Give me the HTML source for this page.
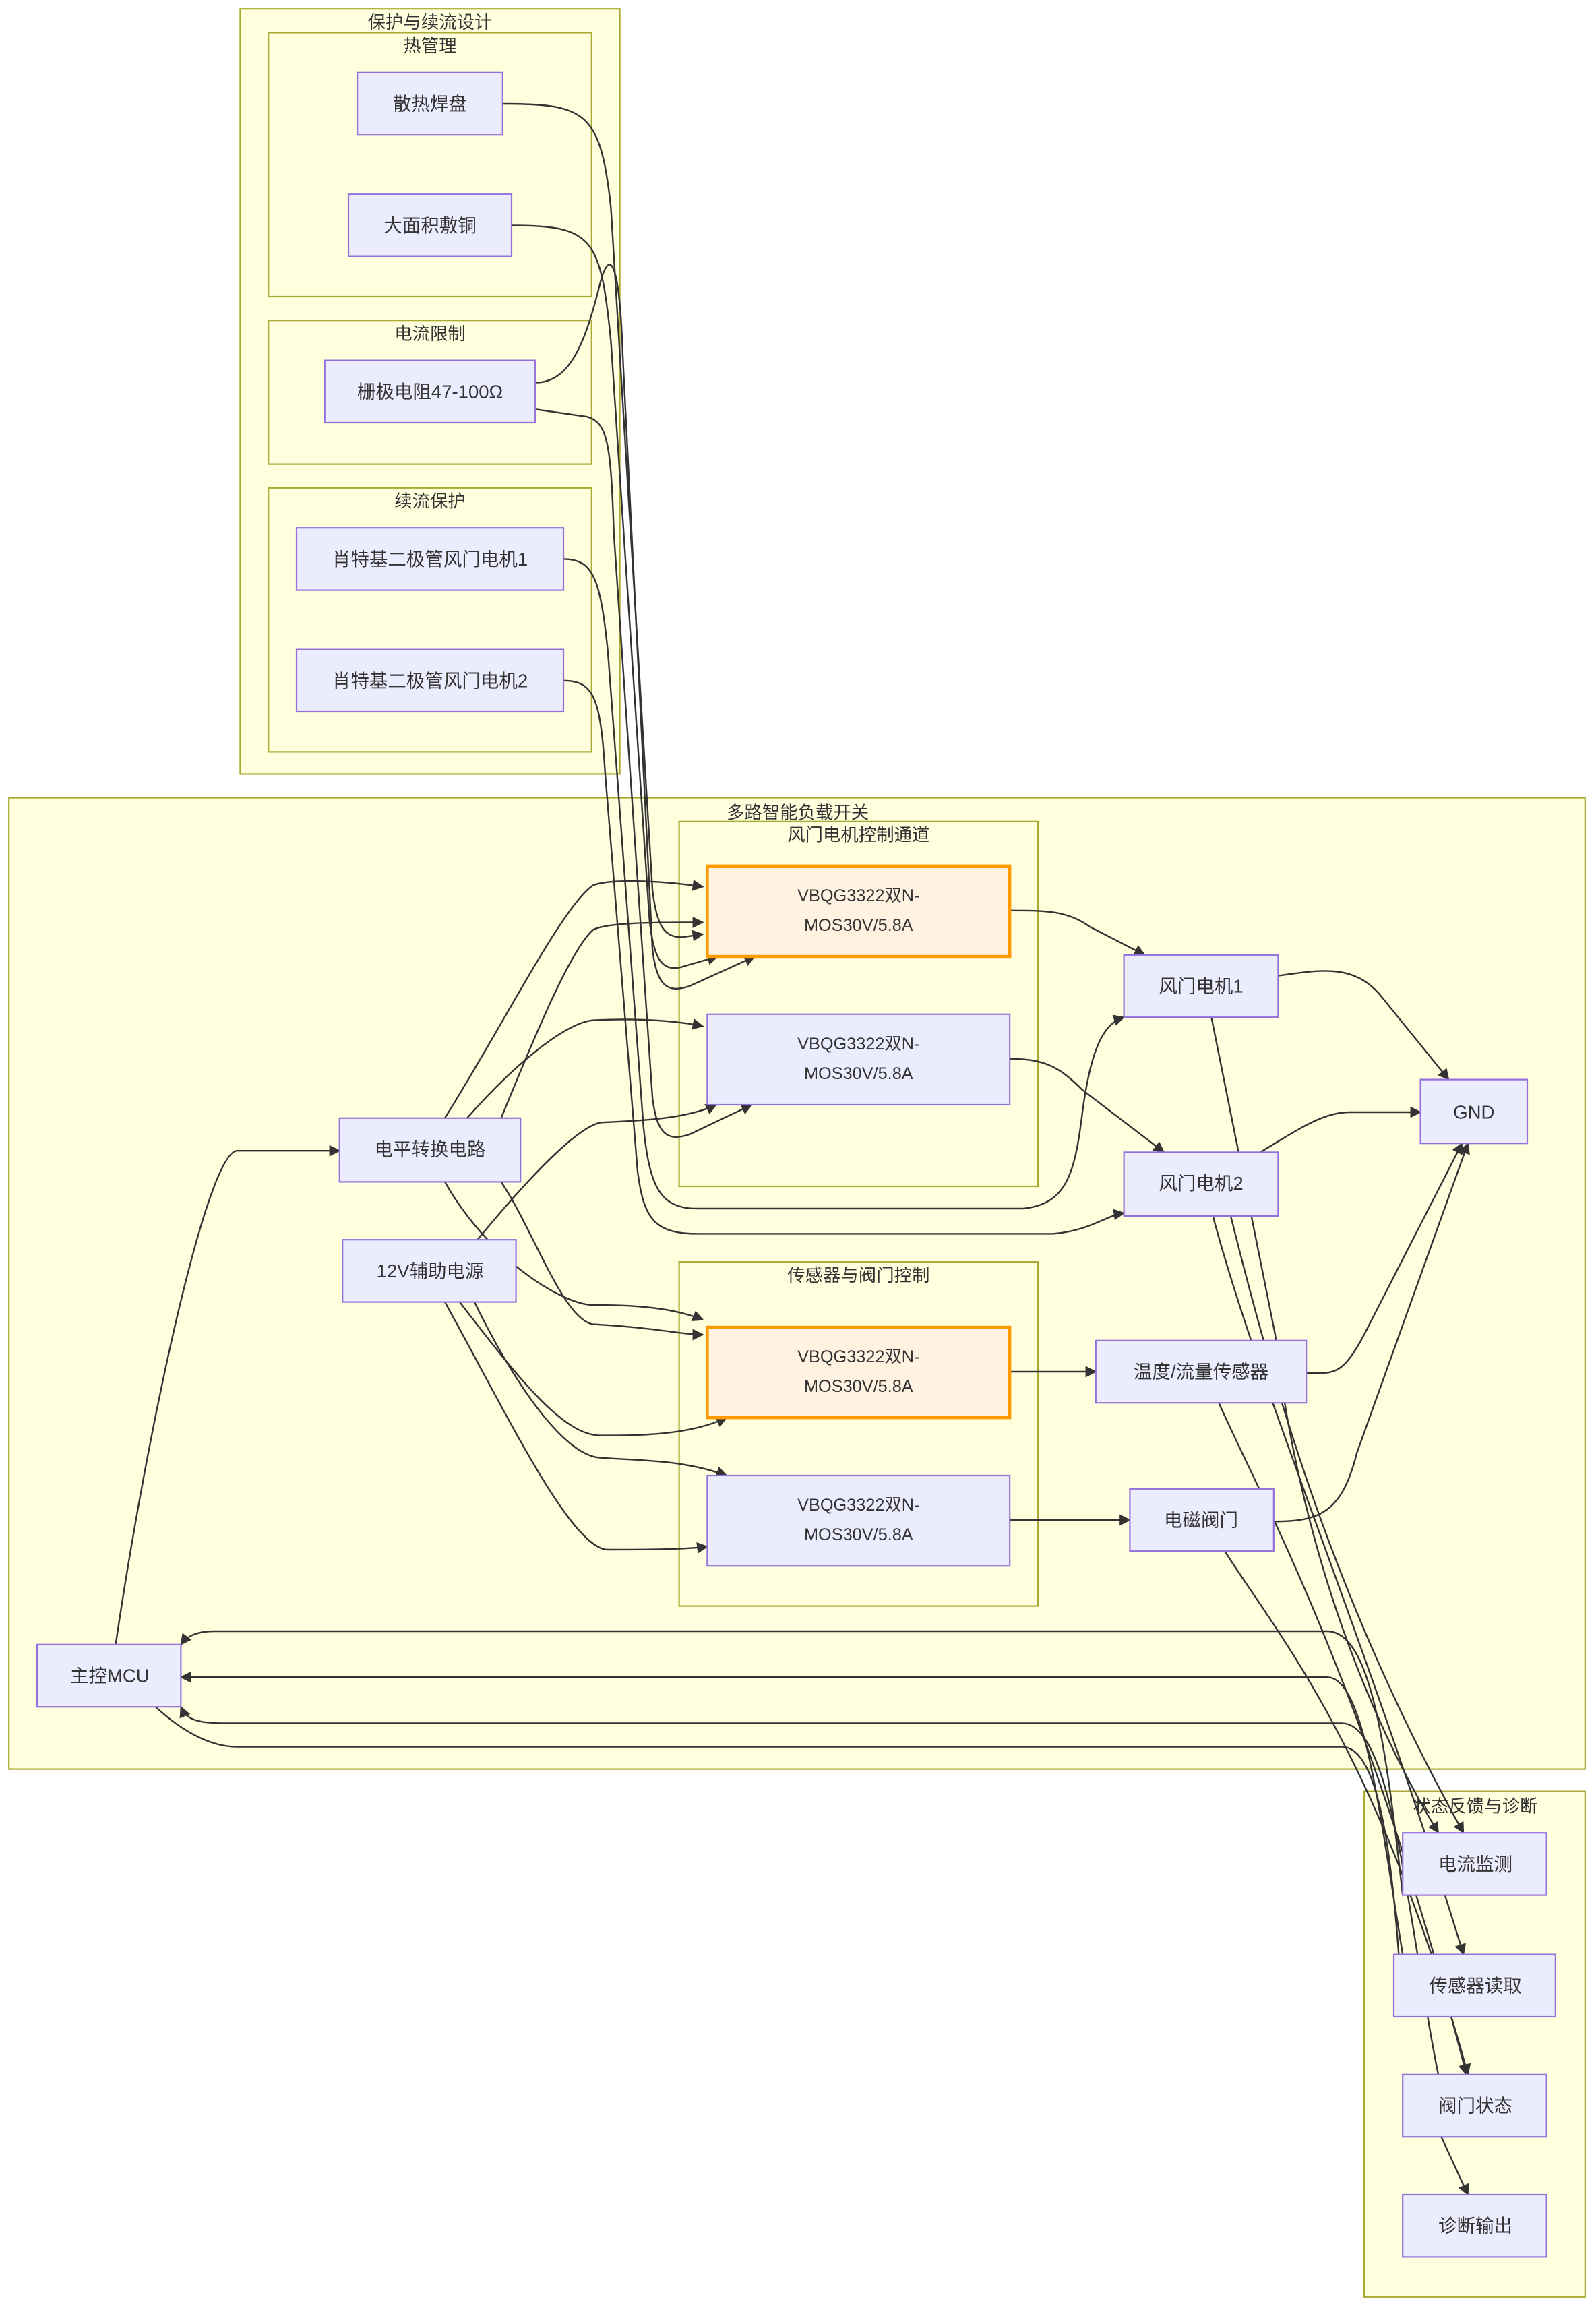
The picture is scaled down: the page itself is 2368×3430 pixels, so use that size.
<!DOCTYPE html>
<html><head><meta charset="utf-8"><style>
html,body{margin:0;padding:0;background:#fff;}
svg{display:block;}
text{font-family:"Liberation Sans","Noto Sans CJK SC",sans-serif;fill:#333;}
.c{fill:#ffffde;stroke:#aaaa33;stroke-width:1;}
.n{fill:#ececff;stroke:#9370db;stroke-width:1;}
.o{fill:#fff2e0;stroke:#ff9900;stroke-width:2;}
.e{fill:none;stroke:#333;stroke-width:1.1;}
.t{font-size:12.5px;text-anchor:middle;dominant-baseline:central;}
.s{font-size:12px;text-anchor:middle;}
</style></head><body>
<svg width="2368" height="3430" viewBox="0 0 1076.36 1559.09" xmlns="http://www.w3.org/2000/svg">
<defs><marker id="a" viewBox="0 0 10 10" refX="9" refY="5" markerWidth="7" markerHeight="7" orient="auto"><path d="M0,0L10,5L0,10z" fill="#333"/></marker></defs>

<rect class="c" x="162" y="6" width="256" height="516"/>
<text class="s" x="290" y="19">保护与续流设计</text>
<rect class="c" x="181" y="22" width="218" height="178"/>
<text class="s" x="290" y="35">热管理</text>
<rect class="c" x="181" y="216" width="218" height="97"/>
<text class="s" x="290" y="229">电流限制</text>
<rect class="c" x="181" y="329" width="218" height="178"/>
<text class="s" x="290" y="342">续流保护</text>

<rect class="c" x="6" y="538" width="1063" height="655"/>
<text class="s" x="538" y="552">多路智能负载开关</text>
<rect class="c" x="458" y="554" width="242" height="246"/>
<text class="s" x="579" y="567">风门电机控制通道</text>
<rect class="c" x="458" y="851" width="242" height="232"/>
<text class="s" x="579" y="864">传感器与阀门控制</text>

<rect class="c" x="920" y="1208" width="149" height="341"/>
<text class="s" x="995" y="1222">状态反馈与诊断</text>

<!-- edges -->
<g class="e">
<path d="M339,70 C395,70 405,75 412,140 L440,600 C443,625 448,632 460,632 L474,630" marker-end="url(#a)"/>
<path d="M345,152 C400,152 405,160 412,230 L438,620 C441,650 448,655 460,652 L484,645" marker-end="url(#a)"/>
<path d="M361,258 C385,258 395,230 405,190 C412,165 418,180 420,240 L440,640 C443,665 450,670 465,665 L509,645" marker-end="url(#a)"/>
<path d="M361,276 L396,281 C410,285 412,300 414,360 L440,740 C443,765 450,770 465,765 L507,745" marker-end="url(#a)"/>
<path d="M380,377 C400,377 405,390 410,440 L434,760 C438,800 445,815 470,815 L690,815 C720,812 725,790 730,750 C736,705 745,690 758,686" marker-end="url(#a)"/>
<path d="M380,459 C400,459 405,470 408,520 L430,790 C434,820 440,832 470,832 L710,832 C735,830 745,820 758,818" marker-end="url(#a)"/>
<path d="M300,754 C340,690 380,610 400,597 C410,593 440,593 474,598" marker-end="url(#a)"/>
<path d="M338,754 C360,700 385,640 400,627 C410,622 440,622 474,622" marker-end="url(#a)"/>
<path d="M315,754 C345,720 380,690 400,688 C420,687 450,687 474,692" marker-end="url(#a)"/>
<path d="M322,836 C360,790 390,760 405,757 C420,756 460,756 483,745" marker-end="url(#a)"/>
<path d="M300,797 C330,850 380,880 400,880 C415,880 450,880 474,890" marker-end="url(#a)"/>
<path d="M338,797 C360,830 380,890 400,893 C440,895 460,900 474,900" marker-end="url(#a)"/>
<path d="M310,878 C350,930 380,968 405,968 C430,968 465,968 490,956" marker-end="url(#a)"/>
<path d="M320,878 C345,930 380,982 405,983 C430,985 460,984 490,995" marker-end="url(#a)"/>
<path d="M300,878 C340,950 385,1045 410,1045 C430,1045 460,1045 477,1043" marker-end="url(#a)"/>
<path d="M78,1109 C100,960 140,776 160,776 L229,776" marker-end="url(#a)"/>
<path d="M681,614 C705,614 720,614 735,625 L772,644" marker-end="url(#a)"/>
<path d="M681,714 C705,714 715,720 730,735 L785,777" marker-end="url(#a)"/>
<path d="M681,925 L739,925" marker-end="url(#a)"/>
<path d="M681,1025 L762,1025" marker-end="url(#a)"/>
<path d="M862,658 C890,654 912,650 930,670 L977,728" marker-end="url(#a)"/>
<path d="M850,777 C875,762 892,750 910,750 L958,750" marker-end="url(#a)"/>
<path d="M881,926 C900,926 905,928 920,900 L986,771" marker-end="url(#a)"/>
<path d="M859,1026 C890,1026 905,1020 915,980 L990,771" marker-end="url(#a)"/>
<path d="M817,686 L860,900 C870,990 900,1120 970,1236" marker-end="url(#a)"/>
<path d="M830,820 C860,940 900,1080 987,1236" marker-end="url(#a)"/>
<path d="M818,820 C850,940 920,1100 987,1318" marker-end="url(#a)"/>
<path d="M822,946 C850,1010 920,1130 989,1399" marker-end="url(#a)"/>
<path d="M826,1046 C860,1100 930,1180 990,1399" marker-end="url(#a)"/>
<path d="M972,1441 L990,1480" marker-end="url(#a)"/>
<path d="M946,1278 C935,1180 925,1100 895,1100 L145,1100 C130,1100 125,1105 122,1109" marker-end="url(#a)"/>
<path d="M946,1318 C930,1220 920,1131 895,1131 L122,1131" marker-end="url(#a)"/>
<path d="M970,1399 C950,1300 940,1162 905,1162 L150,1162 C130,1162 125,1158 122,1151" marker-end="url(#a)"/>
<path d="M105,1151 C120,1165 140,1178 160,1178 L905,1178 C930,1178 940,1250 946,1360"/>
</g>

<!-- nodes -->
<rect class="n" x="241" y="49" width="98" height="42"/><text class="t" x="290" y="70">散热焊盘</text>
<rect class="n" x="235" y="131" width="110" height="42"/><text class="t" x="290" y="152">大面积敷铜</text>
<rect class="n" x="219" y="243" width="142" height="42"/><text class="t" x="290" y="264">栅极电阻47-100Ω</text>
<rect class="n" x="200" y="356" width="180" height="42"/><text class="t" x="290" y="377">肖特基二极管风门电机1</text>
<rect class="n" x="200" y="438" width="180" height="42"/><text class="t" x="290" y="459">肖特基二极管风门电机2</text>

<rect class="o" x="477" y="584" width="204" height="61"/><text class="t" x="579" y="604" style="font-size:11.5px">VBQG3322双N-</text><text class="t" x="579" y="624" style="font-size:11.5px">MOS30V/5.8A</text>
<rect class="n" x="477" y="684" width="204" height="61"/><text class="t" x="579" y="704" style="font-size:11.5px">VBQG3322双N-</text><text class="t" x="579" y="724" style="font-size:11.5px">MOS30V/5.8A</text>
<rect class="o" x="477" y="895" width="204" height="61"/><text class="t" x="579" y="915" style="font-size:11.5px">VBQG3322双N-</text><text class="t" x="579" y="935" style="font-size:11.5px">MOS30V/5.8A</text>
<rect class="n" x="477" y="995" width="204" height="61"/><text class="t" x="579" y="1015" style="font-size:11.5px">VBQG3322双N-</text><text class="t" x="579" y="1035" style="font-size:11.5px">MOS30V/5.8A</text>

<rect class="n" x="229" y="754" width="122" height="43"/><text class="t" x="290" y="775">电平转换电路</text>
<rect class="n" x="231" y="836" width="117" height="42"/><text class="t" x="290" y="857">12V辅助电源</text>
<rect class="n" x="758" y="644" width="104" height="42"/><text class="t" x="810" y="665">风门电机1</text>
<rect class="n" x="758" y="777" width="104" height="43"/><text class="t" x="810" y="798">风门电机2</text>
<rect class="n" x="958" y="728" width="72" height="43"/><text class="t" x="994" y="750">GND</text>
<rect class="n" x="739" y="904" width="142" height="42"/><text class="t" x="810" y="925">温度/流量传感器</text>
<rect class="n" x="762" y="1004" width="97" height="42"/><text class="t" x="810" y="1025">电磁阀门</text>
<rect class="n" x="25" y="1109" width="97" height="42"/><text class="t" x="74" y="1130">主控MCU</text>

<rect class="n" x="946" y="1236" width="97" height="42"/><text class="t" x="995" y="1257">电流监测</text>
<rect class="n" x="940" y="1318" width="109" height="42"/><text class="t" x="995" y="1339">传感器读取</text>
<rect class="n" x="946" y="1399" width="97" height="42"/><text class="t" x="995" y="1420">阀门状态</text>
<rect class="n" x="946" y="1480" width="97" height="42"/><text class="t" x="995" y="1501">诊断输出</text>
</svg>
</body></html>
